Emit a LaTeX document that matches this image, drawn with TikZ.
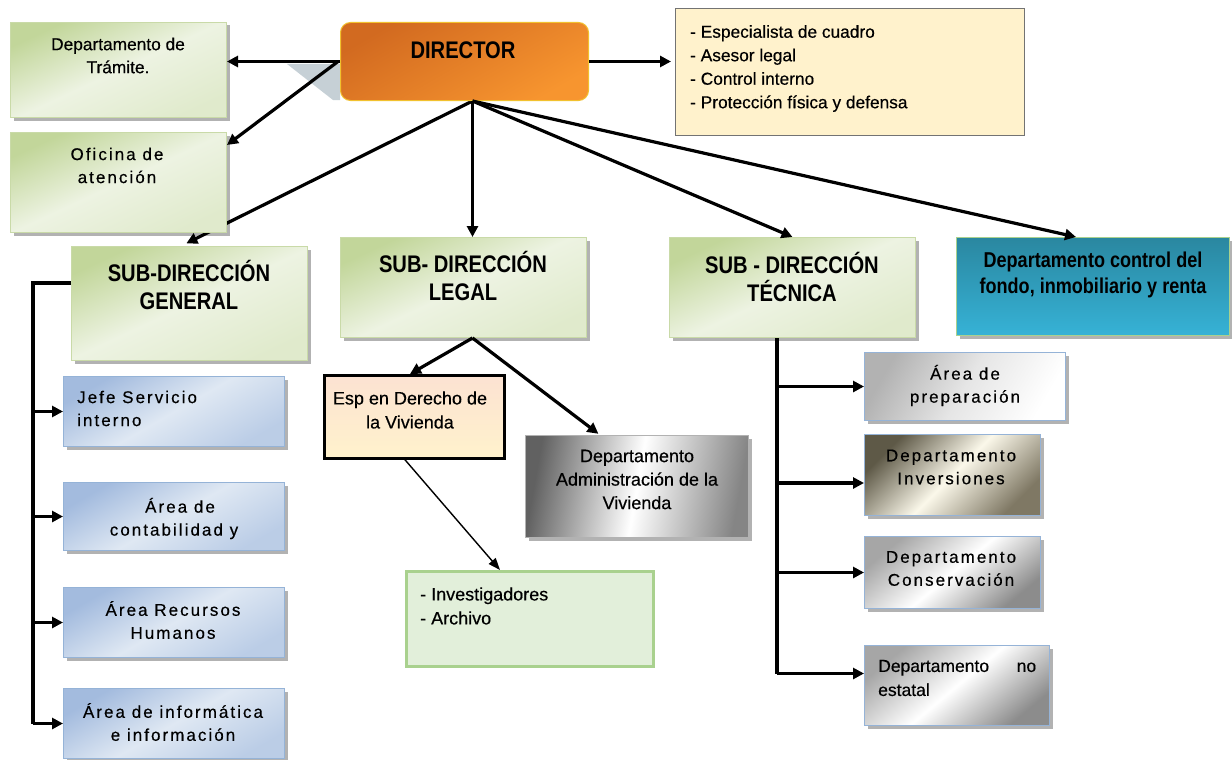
\documentclass[tikz,border=0pt]{standalone}
\usepackage{fontspec}
\setmainfont{Liberation Sans}
\newfontfamily\bodyfont[FakeBold=0.4]{Liberation Sans}
\newfontfamily\widefont[FakeBold=0.4,LetterSpace=12]{Liberation Sans}
\newfontfamily\headfont[FakeStretch=0.84]{Liberation Sans}
\usetikzlibrary{arrows.meta,shadows,calc}

\definecolor{gDark}{HTML}{C2D69A}
\definecolor{gLight}{HTML}{EDF3E2}
\definecolor{gEdge}{HTML}{C9DAA8}
\definecolor{bDark}{HTML}{A3BBDE}
\definecolor{bLight}{HTML}{DFE8F3}
\definecolor{bEdge}{HTML}{95B3D7}
\definecolor{tTop}{HTML}{2A87A0}
\definecolor{tBot}{HTML}{36B2D6}
\definecolor{oTop}{HTML}{D26A20}
\definecolor{oBot}{HTML}{F7952F}
\definecolor{oEdge}{HTML}{F2C12E}
\definecolor{cream}{HTML}{FFF2CC}
\definecolor{peach}{HTML}{FCE2D2}
\definecolor{invFill}{HTML}{E2EFDA}
\definecolor{invEdge}{HTML}{A9D18E}
\definecolor{ghost}{HTML}{C6D0D6}
\definecolor{dTop}{HTML}{5E5947}
\definecolor{dMid}{HTML}{FBF8EA}
\definecolor{dBot}{HTML}{7F7864}

\pgfdeclarelayer{bg}
\pgfsetlayers{bg,main}

\tikzset{
  box/.style={draw, inner sep=0pt, anchor=north west, line width=1pt},
  shad/.style={drop shadow={shadow xshift=3pt, shadow yshift=-3pt, fill=black, opacity=.3}},
  greenbox/.style={box, shad, draw=gEdge, top color=gDark, bottom color=gLight!70!gDark, middle color=gLight, shading angle=25},
  bluebox/.style={box, shad, draw=bEdge, top color=bDark, bottom color=bDark!60!bLight, middle color=bLight, shading angle=30},
  silverbox/.style={box, shad, draw=bEdge, top color=black!35, bottom color=black!45, middle color=white, shading angle=40},
  txt/.style={inner sep=0pt, align=center, font=\bodyfont\fontsize{17}{23}\selectfont},
  wtxt/.style={txt, font=\widefont\fontsize{17}{23}\selectfont},
  head/.style={inner sep=0pt, align=center, font=\headfont\bfseries\fontsize{24}{28}\selectfont},
  conn/.style={line width=3.2pt, -{Triangle[length=11pt,width=11pt]}},
  thinconn/.style={line width=1.4pt, -{Triangle[length=12pt,width=9pt]}},
  bus/.style={line width=3.2pt}
}

\begin{document}
\begin{tikzpicture}[x=1pt,y=-1pt]
\useasboundingbox (0,0) rectangle (1232,760);

% boxes
\node[greenbox, minimum width=216, minimum height=95] (trm) at (10,22) {};
\node[greenbox, minimum width=216, minimum height=100] (ofi) at (10,132) {};
\node[box, rounded corners=10pt, draw=oEdge, top color=oTop, bottom color=oBot, shading angle=30, minimum width=248, minimum height=78] (dir) at (340,22) {};
\node[box, draw=black!55, fill=cream, minimum width=349, minimum height=127] (rbox) at (675,8) {};
\node[greenbox, minimum width=236, minimum height=114] (sg) at (71,246) {};
\node[greenbox, minimum width=246, minimum height=100] (sl) at (340,237) {};
\node[greenbox, minimum width=246, minimum height=100] (st) at (669,237) {};
\node[box, shad, draw=invEdge, top color=tTop, bottom color=tBot, minimum width=273, minimum height=98] (ctl) at (956,237) {};
\node[bluebox, minimum width=221, minimum height=70] (jefe) at (63,376) {};
\node[bluebox, minimum width=221, minimum height=68] (cont) at (63,482) {};
\node[bluebox, minimum width=221, minimum height=70] (rrhh) at (63,587) {};
\node[bluebox, minimum width=221, minimum height=70] (info) at (63,688) {};
\node[box, draw=black, line width=2.8pt, top color=peach, bottom color=cream, minimum width=180, minimum height=83] (esp) at (323,374) {};
\node[box, shad, draw=black!30, left color=black!62, right color=black!48, middle color=white, shading angle=80, minimum width=223, minimum height=102] (adm) at (525,435) {};
\node[box, draw=invEdge, line width=2.8pt, fill=invFill, minimum width=247, minimum height=95] (inv) at (405,570) {};
\node[silverbox, top color=black!30, bottom color=white, middle color=black!10, shading angle=60, minimum width=201, minimum height=68] (prep) at (864,352) {};
\node[box, shad, draw=bEdge, top color=dTop, bottom color=dBot, middle color=dMid, shading angle=45, minimum width=176, minimum height=81] (dinv) at (864,434) {};
\node[silverbox, minimum width=176, minimum height=72] (cons) at (864,536) {};
\node[silverbox, minimum width=185, minimum height=80] (noest) at (864,645) {};

% labels
\node[txt, font=\bodyfont\fontsize{17.3}{23}\selectfont] (trmT) at (118,55.5) {Departamento de\\Trámite.};
\node[wtxt] (ofiT) at (117,165.5) {Oficina de\\atención};
\node[head, font=\headfont\bfseries\fontsize{24}{28}\selectfont] (dirT) at (463,50) {DIRECTOR};
\node[txt, align=left, anchor=north west, font=\bodyfont\fontsize{17.3}{23.5}\selectfont] (rboxT) at (690,25) {- Especialista de cuadro\\- Asesor legal\\- Control interno\\- Protección física y defensa};
\node[head] (sgT) at (189,285) {SUB-DIRECCIÓN\\GENERAL};
\node[head] (slT) at (463,276) {SUB- DIRECCIÓN\\LEGAL};
\node[head] (stT) at (792,277) {SUB - DIRECCIÓN\\TÉCNICA};
\node[head, font=\headfont\bfseries\fontsize{21.5}{26}\selectfont] (ctlT) at (1093,275) {Departamento control del\\fondo, inmobiliario y renta};
\node[wtxt, align=left, anchor=west] (jefeT) at (77,408.5) {Jefe Servicio\\interno};
\node[wtxt] (contT) at (174,518.5) {\hspace*{12pt}Área de\\contabilidad y};
\node[wtxt] (rrhhT) at (173,620) {Área Recursos\\Humanos};
\node[wtxt] (infoT) at (173,722) {Área de informática\\e información};
\node[txt, font=\bodyfont\fontsize{18}{24}\selectfont] (espT) at (410,410) {Esp en Derecho de\\la Vivienda};
\node[txt, font=\bodyfont\fontsize{18}{23.5}\selectfont] (admT) at (637,479.5) {Departamento\\Administración de la\\Vivienda};
\node[txt, align=left, anchor=west, font=\bodyfont\fontsize{18}{24}\selectfont] (invT) at (420,606) {- Investigadores\\- Archivo};
\node[wtxt] (prepT) at (965,385.5) {Área de\\preparación};
\node[wtxt] (dinvT) at (951,467) {Departamento\\Inversiones};
\node[wtxt] (consT) at (951,568.5) {Departamento\\Conservación};
\node[txt, align=left, anchor=west, text width=158pt, font=\bodyfont\fontsize{17.5}{24}\selectfont] (noestT) at (878,678) {Departamento\hfill no\\estatal};

% anchor points for the fan of connectors
\coordinate (dirB) at ([xshift=8pt]dir.south);
\coordinate (slB) at ([xshift=9pt]sl.south);
\coordinate (sgBus) at ([xshift=-38pt,yshift=-37pt]sg.north west);
\coordinate (stBus) at ([xshift=108pt]st.south west);
\coordinate (dinvIn) at ([yshift=-8pt]dinv.west);
\coordinate (noestIn) at ([yshift=12pt]noest.west);

% connectors running behind the boxes
\begin{pgfonlayer}{bg}
\fill[white] (0,0) rectangle (1232,760);
\fill[ghost] (287,64) -- (340,64) -- (340,100) -- (333,100) -- cycle;
\draw[conn, shorten >=6pt] (dirB) -- ([xshift=110pt]sg.north west);
\end{pgfonlayer}

% connectors from the director
\draw[conn] (dir.west) -- (dir.west -| trm.east);
\draw[conn] ([xshift=-2pt]dir.west) -- ([yshift=-13pt]ofi.north east);
\draw[conn, shorten >=4pt] (dir.east) -- (dir.east -| rbox.west);
\draw[conn] (dirB) -- (dirB |- sl.north);
\draw[conn] (dirB) -- (st.north);
\draw[conn] (dirB) -- ([xshift=-17pt]ctl.north);

% legal branch
\draw[conn] (slB) -- ([xshift=87pt]esp.north west);
\draw[conn, shorten >=2pt] (slB) -- ([xshift=75pt]adm.north west);
\draw[thinconn] ([xshift=82pt]esp.south west) -- ([xshift=95pt]inv.north west);

% general branch
\draw[bus] ([yshift=-37pt]sg.north west) -- (sgBus) -- (sgBus |- info.west);
\foreach \n in {jefe,cont,rrhh,info}
  \draw[conn] (sgBus |- \n.west) -- (\n.west);

% technical branch
\draw[bus] (stBus) -- (stBus |- noestIn);
\draw[conn] (stBus |- prep.west) -- (prep.west);
\draw[conn] (stBus |- dinvIn) -- (dinvIn);
\draw[conn] (stBus |- cons.west) -- (cons.west);
\draw[conn] (stBus |- noestIn) -- (noestIn);
\end{tikzpicture}
\end{document}
